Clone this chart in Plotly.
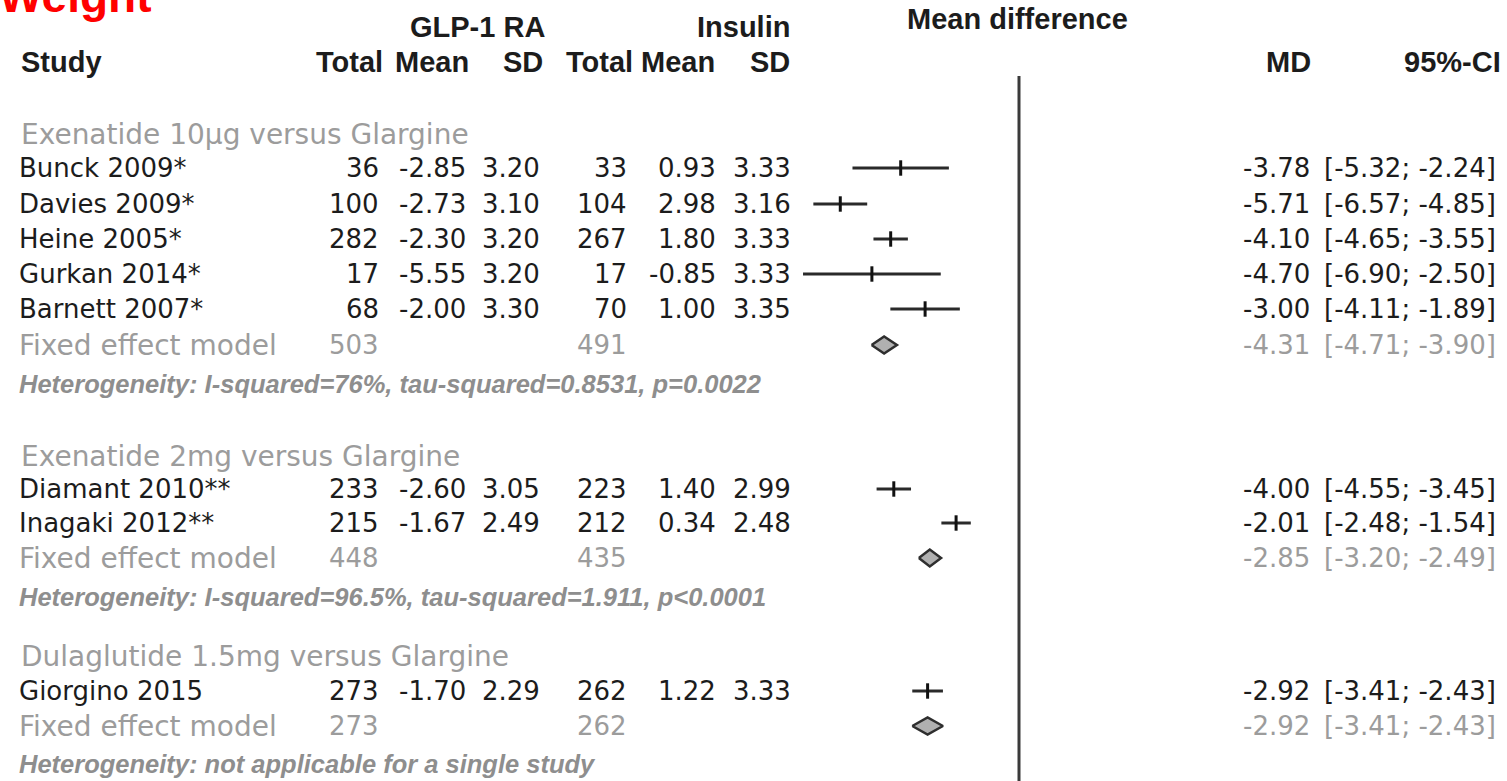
import plotly.graph_objects as go

# ---------------- data ----------------
studies = ["Bunck 2009*", "Davies 2009*", "Heine 2005*", "Gurkan 2014*", "Barnett 2007*",
           "Diamant 2010**", "Inagaki 2012**", "Giorgino 2015"]
glp_total = [36, 100, 282, 17, 68, 233, 215, 273]
glp_mean = [-2.85, -2.73, -2.30, -5.55, -2.00, -2.60, -1.67, -1.70]
glp_sd = [3.20, 3.10, 3.20, 3.20, 3.30, 3.05, 2.49, 2.29]
ins_total = [33, 104, 267, 17, 70, 223, 212, 262]
ins_mean = [0.93, 2.98, 1.80, -0.85, 1.00, 1.40, 0.34, 1.22]
ins_sd = [3.33, 3.16, 3.33, 3.33, 3.35, 2.99, 2.48, 3.33]
md = [-3.78, -5.71, -4.10, -4.70, -3.00, -4.00, -2.01, -2.92]
md_lo = [-5.32, -6.57, -4.65, -6.90, -4.11, -4.55, -2.48, -3.41]
md_hi = [-2.24, -4.85, -3.55, -2.50, -1.89, -3.45, -1.54, -2.43]

groups = ["Exenatide 10\u03bcg versus Glargine", "Exenatide 2mg versus Glargine",
          "Dulaglutide 1.5mg versus Glargine"]
fixed_glp_total = [503, 448, 273]
fixed_ins_total = [491, 435, 262]
fixed_md = [-4.31, -2.85, -2.92]
fixed_lo = [-4.71, -3.20, -3.41]
fixed_hi = [-3.90, -2.49, -2.43]
heterogeneity = ["Heterogeneity: I-squared=76%, tau-squared=0.8531, p=0.0022",
                 "Heterogeneity: I-squared=96.5%, tau-squared=1.911, p<0.0001",
                 "Heterogeneity: not applicable for a single study"]

# ---------------- layout (pixel positions) ----------------
W, H = 1507, 781
PX_ZERO, PX_PER_UNIT = 1019, 31.3
study_y = [168, 204, 239, 274, 309, 489, 523, 691]
group_y = [134, 456, 656]
fixed_y = [345, 558, 726]
het_y = [384, 597, 764]
DIAMOND_HALF = 8.5

COL_LEFT = 18
data_cols = [380, 467, 541, 628, 717, 792]
head_cols = [384, 470, 544, 634, 716, 791]
MD_RIGHT, CI_RIGHT = 1311, 1497

BLACK = "#1c1c1c"
GREY = "#9c9c9c"
HET_GREY = "#8e8e8e"
F_DATA = dict(family="DejaVu Sans", size=26, color=BLACK)
F_GREY = dict(family="DejaVu Sans", size=28, color=GREY)
F_GREY_NUM = dict(family="DejaVu Sans", size=26, color=GREY)
F_HEAD = dict(family="Liberation Sans, Arial", size=29, color=BLACK)
F_HET = dict(family="Liberation Sans, Arial", size=25.5, color=HET_GREY)

fig = go.Figure()

# CI lines
xs, ys = [], []
for lo, hi, y in zip(md_lo, md_hi, study_y):
    xs += [lo, hi, None]
    ys += [y, y, None]
fig.add_trace(go.Scatter(x=xs, y=ys, mode="lines", line=dict(color="#2a2a2a", width=3),
                         hoverinfo="skip"))
fig.add_trace(go.Scatter(x=md, y=study_y, mode="markers",
                         marker=dict(symbol="line-ns-open", size=11, color="#111111",
                                     line=dict(color="#111111", width=3)),
                         hoverinfo="skip"))
# pooled diamonds
for m, lo, hi, y in zip(fixed_md, fixed_lo, fixed_hi, fixed_y):
    fig.add_trace(go.Scatter(x=[lo, m, hi, m, lo],
                             y=[y, y - DIAMOND_HALF, y, y + DIAMOND_HALF, y],
                             mode="lines", fill="toself", fillcolor="#b0b0b0",
                             line=dict(color="#2e2e2e", width=2.5), hoverinfo="skip"))

# zero line
fig.add_shape(type="line", xref="x", yref="y", x0=0, x1=0, y0=76, y1=H,
              line=dict(color="#3a3a3a", width=3))


def txt(s, xpx, ypx, anchor, font, bold=False, italic=False):
    if bold:
        s = "<b>" + s + "</b>"
    if italic:
        s = "<i>" + s + "</i>"
    fig.add_annotation(x=xpx / W, y=1 - ypx / H, xref="paper", yref="paper", text=s,
                       showarrow=False, xanchor=anchor, yanchor="middle", font=font,
                       borderpad=0)


# title (partly cropped at the top edge, as in the reference)
txt("Weight", -2, -4, "left", dict(family="Liberation Sans, Arial", size=46, color="#ff0000"), bold=True)

# headers
txt("GLP-1 RA", 478, 27, "center", F_HEAD, bold=True)
txt("Insulin", 791, 27, "right", F_HEAD, bold=True)
txt("Mean difference", 1017, 19, "center", F_HEAD, bold=True)
txt("Study", 20, 62, "left", F_HEAD, bold=True)
for lab, xr in zip(["Total", "Mean", "SD", "Total", "Mean", "SD"], head_cols):
    txt(lab, xr, 62, "right", F_HEAD, bold=True)
txt("MD", 1312, 62, "right", F_HEAD, bold=True)
txt("95%-CI", 1502, 62, "right", F_HEAD, bold=True)

# study rows
for i, s in enumerate(studies):
    y = study_y[i]
    txt(s, COL_LEFT, y, "left", F_DATA)
    vals = [str(glp_total[i]), f"{glp_mean[i]:.2f}", f"{glp_sd[i]:.2f}",
            str(ins_total[i]), f"{ins_mean[i]:.2f}", f"{ins_sd[i]:.2f}"]
    for v, xr in zip(vals, data_cols):
        txt(v, xr, y, "right", F_DATA)
    txt(f"{md[i]:.2f}", MD_RIGHT, y, "right", F_DATA)
    txt(f"[{md_lo[i]:.2f}; {md_hi[i]:.2f}]", CI_RIGHT, y, "right", F_DATA)

# group rows
for g in range(3):
    txt(groups[g], COL_LEFT + 2, group_y[g], "left", F_GREY)
    txt("Fixed effect model", COL_LEFT, fixed_y[g], "left", F_GREY)
    txt(str(fixed_glp_total[g]), data_cols[0], fixed_y[g], "right", F_GREY_NUM)
    txt(str(fixed_ins_total[g]), data_cols[3], fixed_y[g], "right", F_GREY_NUM)
    txt(f"{fixed_md[g]:.2f}", MD_RIGHT, fixed_y[g], "right", F_GREY_NUM)
    txt(f"[{fixed_lo[g]:.2f}; {fixed_hi[g]:.2f}]", CI_RIGHT, fixed_y[g], "right", F_GREY_NUM)
    txt(heterogeneity[g], COL_LEFT, het_y[g], "left", F_HET, bold=True, italic=True)

fig.update_layout(
    width=W, height=H, margin=dict(l=0, r=0, t=0, b=0),
    paper_bgcolor="white", plot_bgcolor="white", showlegend=False,
    xaxis=dict(range=[-PX_ZERO / PX_PER_UNIT, (W - PX_ZERO) / PX_PER_UNIT], visible=False,
               fixedrange=True),
    yaxis=dict(range=[H, 0], visible=False, fixedrange=True),
)

fig.write_html("out.html")
